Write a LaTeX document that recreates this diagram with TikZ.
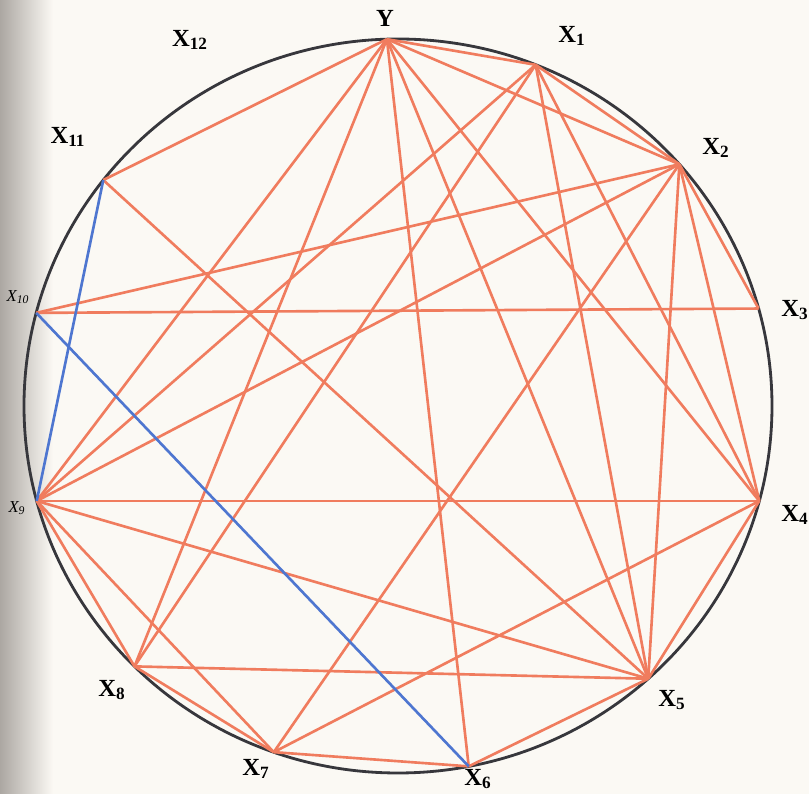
\documentclass[tikz,border=0pt]{standalone}
\usepackage{fontspec}
\setmainfont{Liberation Serif}
\definecolor{chordorange}{RGB}{240,124,94}
\definecolor{chordblue}{RGB}{78,118,208}
\definecolor{rim}{RGB}{55,55,60}
\definecolor{paper}{RGB}{251,249,244}
\definecolor{shadow}{RGB}{172,167,162}
\tikzset{
  chord/.style={draw=chordorange, line width=1.5pt},
  bluechord/.style={draw=chordblue, line width=1.5pt},
  lbl/.style={font=\fontsize{14}{16}\selectfont\bfseries, inner sep=0pt},
  smalllbl/.style={font=\fontsize{9.5}{11}\selectfont\itshape, inner sep=0pt},
}

\begin{document}
\begin{tikzpicture}[x=0.02cm, y=0.02cm]
    % page
    \fill[paper] (-398,-388) rectangle (411,406);
    \shade[left color=shadow, right color=paper] (-398,-388) rectangle (-345,406);
    \useasboundingbox (-398,-388) rectangle (411,406);

    % rim
    \draw[rim, line width=1.6pt] (0,0) ellipse [x radius=374, y radius=367];

    % points on the rim
    \coordinate (Y)   at (91.7:374 and 367);
    \coordinate (X1)  at (68.4:374 and 367);
    \coordinate (X2)  at (41.2:374 and 367);
    \coordinate (X3)  at (15.4:374 and 367);
    \coordinate (X4)  at (-15.0:374 and 367);
    \coordinate (X5)  at (-48.0:374 and 367);
    \coordinate (X6)  at (-79.1:374 and 367);
    \coordinate (X7)  at (-109.4:374 and 367);
    \coordinate (X8)  at (-134.8:374 and 367);
    \coordinate (X9)  at (195.0:374 and 367);
    \coordinate (X10) at (165.3:374 and 367);
    \coordinate (X11) at (142.0:374 and 367);

    % labels
    \node[lbl] (lY)   at (-13,388)  {Y};
    \node[lbl] (l1)   at (174,370)  {X\textsubscript{1}};
    \node[lbl] (l2)   at (318,258)  {X\textsubscript{2}};
    \node[lbl] (l3)   at (397,96)   {X\textsubscript{3}};
    \node[lbl] (l4)   at (397,-109) {X\textsubscript{4}};
    \node[lbl] (l5)   at (274,-294) {X\textsubscript{5}};
    \node[lbl] (l6)   at (80,-373)  {X\textsubscript{6}};
    \node[lbl] (l7)   at (-142,-363) {X\textsubscript{7}};
    \node[lbl] (l8)   at (-286,-284) {X\textsubscript{8}};
    \node[smalllbl] (l9)  at (-381,-102) {X\textsubscript{9}};
    \node[smalllbl] (l10) at (-380,109)  {X\textsubscript{10}};
    \node[lbl] (l11)  at (-330,269) {X\textsubscript{11}};
    \node[lbl] (l12)  at (-208,366) {X\textsubscript{12}};

    % chords
    \path[chord]
        (Y) edge (X11) edge (X9) edge (X8) edge (X6)
            edge (X5) edge (X4) edge (X1) edge (X2)
        (X1) edge (X2) edge (X9) edge (X8) edge (X5) edge (X4)
        (X2) edge (X10) edge (X9) edge (X7) edge (X5) edge (X4) edge (X3)
        (X3) edge (X10)
        (X4) edge (X9) edge (X7) edge (X5)
        (X5) edge (X11) edge (X9) edge (X8) edge (X6)
        (X6) edge (X7)
        (X7) edge (X9) edge (X8)
        (X8) edge (X9);
    \path[bluechord]
        (X11) edge (X9)
        (X10) edge (X6);
\end{tikzpicture}
\end{document}
